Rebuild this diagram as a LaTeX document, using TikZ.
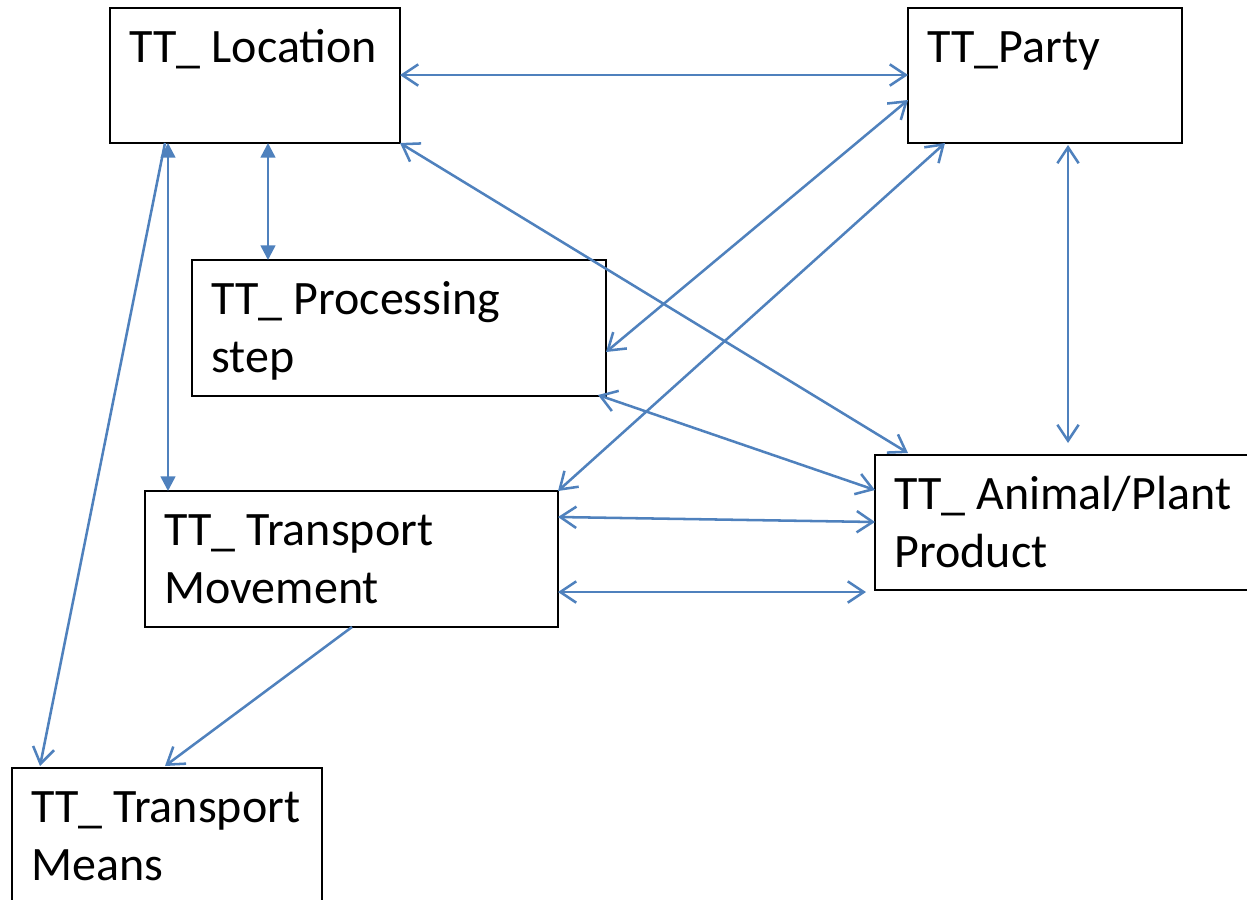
\documentclass[tikz,border=0pt]{standalone}
\usepackage{fontspec}
\setmainfont{Carlito}
\usetikzlibrary{calc,arrows.meta}
\definecolor{linkblue}{RGB}{79,129,189}

\tikzset{every picture/.style={line width=0.75pt}}
\tikzset{
  tablebox/.style={draw=black, line width=1.5pt, rectangle, inner sep=0pt, outer sep=0pt},
  tabletext/.style={anchor=base west, inner sep=0pt, align=left, font=\fontsize{36}{43.5}\selectfont},
  link/.style={draw=linkblue, line width=1.9pt, {Straight Barb[length=12pt,width=16pt]}-{Straight Barb[length=12pt,width=16pt]}},
  onelink/.style={draw=linkblue, line width=1.9pt, -{Straight Barb[length=12pt,width=16pt]}},
  solidlink/.style={draw=linkblue, line width=1.9pt, {Triangle[length=11pt,width=11pt]}-{Triangle[length=11pt,width=11pt]}}
}

\begin{document}
\begin{tikzpicture}[x=0.75pt,y=0.75pt,yscale=-1,xscale=1]
\useasboundingbox (0,0) rectangle (1247,900);

%Shape: Rectangle
\node [tablebox, minimum width=217.5pt, minimum height=101.25pt] (loc) at (255,75.5) {};
%Shape: Rectangle
\node [tablebox, minimum width=205.5pt, minimum height=101.25pt] (party) at (1045,75.5) {};
%Shape: Rectangle
\node [tablebox, minimum width=310.5pt, minimum height=102pt] (proc) at (399,328) {};
%Shape: Rectangle
\node [tablebox, minimum width=309.75pt, minimum height=102pt] (move) at (351.5,559) {};
%Shape: Rectangle
\node [tablebox, minimum width=292.5pt, minimum height=101.25pt] (anim) at (1070,522.5) {};
%Shape: Rectangle
\node [tablebox, minimum width=232.5pt, minimum height=110.25pt] (means) at (167,841.5) {};

% Text Node (base of the last line)
\node [tabletext] (loctext) at ($(loc.north west)+(19,54)$) {TT\_ Location};
% Text Node
\node [tabletext] (partytext) at ($(party.north west)+(19,54)$) {TT\_Party};
% Text Node
\node [tabletext] (proctext) at ($(proc.north west)+(19,112)$) {TT\_ Processing\\step};
% Text Node
\node [tabletext] (movetext) at ($(move.north west)+(19,112)$) {TT\_ Transport\\Movement};
% Text Node
\node [tabletext] (animtext) at ($(anim.north west)+(19,112)$) {TT\_ Animal/Plant\\Product};
% Text Node
\node [tabletext] (meanstext) at ($(means.north west)+(19,112)$) {TT\_ Transport\\Means};

%Straight Lines
\draw [link] ($(loc.north east)+(0,67)$) -- ($(party.north west)+(0,67)$);
%Straight Lines
\draw [solidlink] ($(loc.south west)+(158,0)$) -- ($(proc.north west)+(76,0)$);
%Straight Lines
\draw [solidlink] ($(loc.south west)+(58,0)$) -- ($(move.north west)+(23,0)$);
%Straight Lines
\draw [onelink] ($(loc.south west)+(55,0)$) -- ($(means.north west)+(28,-2)$);
%Straight Lines
\draw [link] (loc.south east) -- ($(anim.north west)+(33,-2)$);
%Straight Lines
\draw [link] ($(party.north west)+(0,92)$) -- ($(proc.north east)+(0,92)$);
%Straight Lines
\draw [link] ($(party.south west)+(37,0)$) -- (move.north east);
%Straight Lines
\draw [link] ($(party.south west)+(160,2)$) -- ($(anim.north west)+(193,-12)$);
%Straight Lines
\draw [link] ($(proc.south east)+(-8,-1)$) -- ($(anim.north west)+(0,35)$);
%Straight Lines
\draw [link] ($(move.north east)+(0,26)$) -- ($(anim.north west)+(0,67)$);
%Straight Lines
\draw [link] ($(move.north east)+(0,101)$) -- ($(anim.north west)+(-9,137)$);
%Straight Lines
\draw [onelink] ($(move.south west)+(207,0)$) -- ($(means.north west)+(153,-2)$);

\end{tikzpicture}
\end{document}
